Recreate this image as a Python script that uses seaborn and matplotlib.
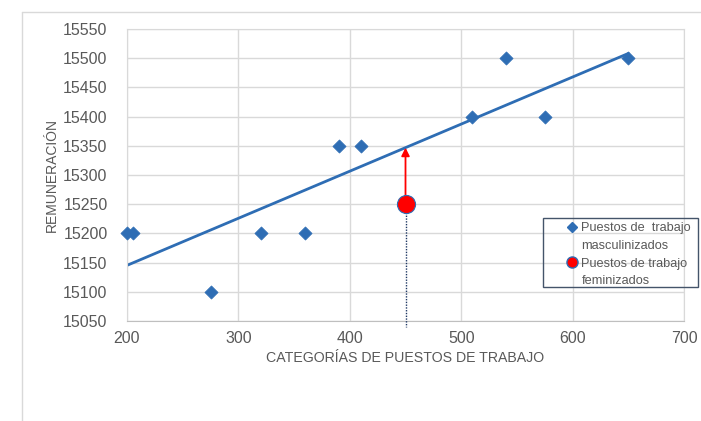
import numpy as np
import pandas as pd
import seaborn as sns
import matplotlib.pyplot as plt
from matplotlib.lines import Line2D
from matplotlib.patches import Rectangle

# puestos masculinizados
cat_masc = [200, 205, 275, 320, 360, 390, 410, 510, 540, 575, 650]
rem_masc = [15200, 15200, 15100, 15200, 15200, 15350, 15350, 15400, 15500, 15400, 15500]
# puesto feminizado
cat_fem = [450]
rem_fem = [15250]

x_ticks = [200, 300, 400, 500, 600, 700]
y_ticks = list(range(15050, 15551, 50))

masc = pd.DataFrame({"cat": cat_masc, "rem": rem_masc})

sns.set_style("white")
plt.rcParams['font.family'] = ['Liberation Sans', 'DejaVu Sans']

blue = "#2E6DB4"
grey_txt = "#595959"
W, H = 701, 421

fig = plt.figure(figsize=(7.01, 4.21), dpi=100)
ax = fig.add_axes([127 / W, 1 - 321 / H, 557 / W, 292 / H])

# outer chart frame (partially visible)
fig.add_artist(Line2D([22 / W, 22 / W], [0, 1 - 12 / H], color="#D9D9D9", lw=1))
fig.add_artist(Line2D([22 / W, 1], [1 - 12 / H, 1 - 12 / H], color="#D9D9D9", lw=1))

sns.regplot(data=masc, x="cat", y="rem", scatter=False, ci=None, ax=ax,
            line_kws=dict(color=blue, lw=2))
sns.scatterplot(data=masc, x="cat", y="rem", marker="D", s=45, color=blue,
                edgecolor=blue, linewidth=0.5, ax=ax, zorder=4, clip_on=False)

# valor de la recta en el puesto feminizado
slope, icpt = np.polyfit(cat_masc, rem_masc, 1)
y_line = slope * cat_fem[0] + icpt

ax.plot([cat_fem[0], cat_fem[0]], [rem_fem[0], 15040], ls=(0, (1, 1)),
        color="#1F3864", lw=1, clip_on=False, zorder=3)
ax.annotate("", xy=(cat_fem[0], y_line), xytext=(cat_fem[0], rem_fem[0]),
            arrowprops=dict(arrowstyle="-|>", color="red", lw=1.3,
                            mutation_scale=12, shrinkA=0, shrinkB=0), zorder=4)
sns.scatterplot(x=cat_fem, y=rem_fem, marker="o", s=170, color="red",
                edgecolor=blue, linewidth=0.8, ax=ax, zorder=5)

ax.set_xlim(200, 700)
ax.set_ylim(15050, 15550)
ax.set_xticks(x_ticks)
ax.set_yticks(y_ticks)
ax.grid(True, color="#D9D9D9", lw=1)
ax.set_axisbelow(True)
for side in ["top", "right", "left"]:
    ax.spines[side].set_color("#D9D9D9")
ax.spines["bottom"].set_color("#BFBFBF")
ax.tick_params(axis="both", length=0, labelsize=11.5, labelcolor=grey_txt)
ax.tick_params(axis="y", pad=14)
ax.tick_params(axis="x", pad=7)

ax.set_xlabel("CATEGORÍAS DE PUESTOS DE TRABAJO", fontsize=10.2, color=grey_txt, labelpad=4)
ax.set_ylabel("REMUNERACIÓN", fontsize=10, color=grey_txt, labelpad=3)

# leyenda: marco aparte, una fila por línea de texto
fig.add_artist(Rectangle((543 / W, 1 - 287 / H), 155 / W, 69 / H, transform=fig.transFigure,
                         fill=False, edgecolor="#44546A", lw=1, zorder=6))
handles = [
    Line2D([], [], ls="", marker="D", ms=5.5, color=blue),
    Line2D([], [], ls="", marker=""),
    Line2D([], [], ls="", marker="o", ms=8, markerfacecolor="red", markeredgecolor=blue),
    Line2D([], [], ls="", marker=""),
]
labels = ["Puestos de  trabajo", "masculinizados", "Puestos de trabajo", "feminizados"]
leg = ax.legend(handles, labels, loc="upper left", bbox_to_anchor=(566 / W, 1 - 222 / H),
                bbox_transform=fig.transFigure, fontsize=9.2, frameon=False,
                handlelength=0.9, handletextpad=0.3, borderpad=0,
                labelspacing=0.45, borderaxespad=0)
for t in leg.get_texts():
    t.set_color(grey_txt)

fig.savefig("out.png", dpi=100)
